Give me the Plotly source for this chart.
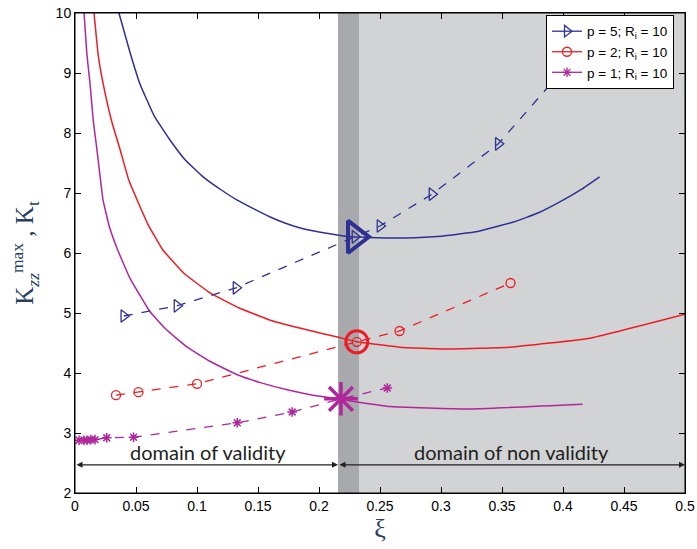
import plotly.graph_objects as go

# ---- data ----
# p = 5 ; solid curve K_zz^max
p5_xi = [0.036, 0.045, 0.053, 0.065, 0.078, 0.09, 0.105, 0.12, 0.133, 0.147, 0.16, 0.172, 0.184, 0.2, 0.215, 0.227, 0.24, 0.255, 0.27, 0.3, 0.33, 0.36, 0.38, 0.40, 0.415, 0.43]
p5_k  = [10.0, 9.35, 8.83, 8.28, 7.88, 7.56, 7.27, 7.05, 6.88, 6.73, 6.6, 6.5, 6.42, 6.35, 6.3, 6.27, 6.26, 6.25, 6.25, 6.28, 6.36, 6.52, 6.67, 6.88, 7.06, 7.27]
# p = 5 ; dashed K_t
p5t_xi = [0.040, 0.0836, 0.132, 0.2295, 0.25, 0.2926, 0.347, 0.40]
p5t_k  = [4.95, 5.12, 5.42, 6.27, 6.45, 6.98, 7.82, 9.05]

# p = 2 ; solid
p2_xi = [0.0156, 0.019, 0.023, 0.03, 0.037, 0.044, 0.051, 0.06, 0.072, 0.09, 0.111, 0.135, 0.16, 0.19, 0.215, 0.231, 0.266, 0.305, 0.357, 0.422, 0.5]
p2_k  = [10.0, 9.3, 8.83, 8.2, 7.72, 7.22, 6.88, 6.47, 6.05, 5.65, 5.33, 5.08, 4.88, 4.72, 4.6, 4.52, 4.43, 4.4, 4.43, 4.58, 4.98]
# p = 2 ; dashed
p2t_xi = [0.0336, 0.052, 0.1, 0.231, 0.266, 0.357]
p2t_k  = [3.63, 3.68, 3.82, 4.52, 4.7, 5.5]

# p = 1 ; solid
p1_xi = [0.0074, 0.0098, 0.0123, 0.015, 0.018, 0.023, 0.028, 0.035, 0.045, 0.0615, 0.075, 0.092, 0.11, 0.133, 0.152, 0.174, 0.195, 0.218, 0.258, 0.321, 0.416]
p1_k  = [10.0, 9.3, 8.83, 8.2, 7.72, 6.88, 6.45, 6.05, 5.58, 5.02, 4.72, 4.43, 4.2, 3.97, 3.84, 3.72, 3.63, 3.56, 3.44, 3.4, 3.48]
# p = 1 ; dashed
p1t_xi = [0.0033, 0.0074, 0.0098, 0.013, 0.0164, 0.026, 0.048, 0.133, 0.178, 0.218, 0.256]
p1t_k  = [2.88, 2.88, 2.88, 2.89, 2.89, 2.92, 2.93, 3.17, 3.35, 3.57, 3.75]

# critical (intersection) points
crit5_xi, crit5_k = [0.2295], [6.27]
crit2_xi, crit2_k = [0.231], [4.52]
crit1_xi, crit1_k = [0.218], [3.57]

legend_labels = ["p = 5; R<sub>i</sub> = 10", "p = 2; R<sub>i</sub> = 10", "p = 1; R<sub>i</sub> = 10"]

# domain boundaries
xi_valid = [0.0, 0.2156]
xi_band = [0.2156, 0.2328]
xi_max = 0.5
arrow_k = 2.47

BLUE = "#2E3192"
RED = "#ED1C24"
MAG = "#B0279B"

fig = go.Figure()

# shaded regions
fig.add_shape(type="rect", xref="x", yref="y", x0=xi_band[1], x1=xi_max, y0=2, y1=10,
              fillcolor="#D1D3D4", line_width=0, layer="below")
fig.add_shape(type="rect", xref="x", yref="y", x0=xi_band[0], x1=xi_band[1], y0=2, y1=10,
              fillcolor="#A7A9AC", line_width=0, layer="below")
# axes box
fig.add_shape(type="rect", xref="x domain", yref="y domain", x0=0, x1=1, y0=0, y1=1,
              line=dict(color="black", width=1), fillcolor="rgba(0,0,0,0)", layer="above")

# solid curves
for xs, ys, c in [(p5_xi, p5_k, BLUE), (p2_xi, p2_k, RED), (p1_xi, p1_k, MAG)]:
    fig.add_trace(go.Scatter(x=xs, y=ys, mode="lines",
                             line=dict(color=c, width=1.5, shape="spline", smoothing=0.3),
                             showlegend=False, hoverinfo="skip"))

# dashed with markers
fig.add_trace(go.Scatter(x=p5t_xi, y=p5t_k, mode="lines+markers", line=dict(color=BLUE, width=1.3, dash="dash"),
                         marker=dict(symbol="triangle-right-open", size=11, color=BLUE, line=dict(width=1.3, color=BLUE)),
                         showlegend=False))
fig.add_trace(go.Scatter(x=p2t_xi, y=p2t_k, mode="lines+markers", line=dict(color=RED, width=1.3, dash="dash"),
                         marker=dict(symbol="circle-open", size=9, color=RED, line=dict(width=1.3, color=RED)),
                         showlegend=False))
fig.add_trace(go.Scatter(x=p1t_xi, y=p1t_k, mode="lines+markers", line=dict(color=MAG, width=1.3, dash="dash"),
                         marker=dict(symbol="asterisk-open", size=8, color=MAG, line=dict(width=1.5, color=MAG)),
                         showlegend=False))

# big critical markers
fig.add_trace(go.Scatter(x=crit5_xi, y=crit5_k, mode="markers",
                         marker=dict(symbol="triangle-right-open", size=28, color=BLUE, line=dict(width=4, color=BLUE)),
                         showlegend=False))
fig.add_trace(go.Scatter(x=crit2_xi, y=crit2_k, mode="markers",
                         marker=dict(symbol="circle-open", size=22, color=RED, line=dict(width=3, color=RED)),
                         showlegend=False))
fig.add_trace(go.Scatter(x=crit1_xi, y=crit1_k, mode="markers",
                         marker=dict(symbol="asterisk-open", size=28, color=MAG, line=dict(width=3.5, color=MAG)),
                         showlegend=False))

# legend entries (solid line with marker)
for lbl, c, sym, sz in [(legend_labels[0], BLUE, "triangle-right-open", 10),
                        (legend_labels[1], RED, "circle-open", 9),
                        (legend_labels[2], MAG, "asterisk-open", 8)]:
    fig.add_trace(go.Scatter(x=[None], y=[None], mode="lines+markers", name=lbl,
                             line=dict(color=c, width=1.3),
                             marker=dict(symbol=sym, size=sz, color=c, line=dict(width=1.3, color=c))))

# arrows
for x0, x1 in [(xi_valid[0], xi_valid[1]), (xi_valid[1], xi_max)]:
    fig.add_annotation(x=x1, y=arrow_k, ax=x0, ay=arrow_k, xref="x", yref="y", axref="x", ayref="y",
                       text="", showarrow=True, arrowhead=2, arrowside="end+start", arrowsize=1.0,
                       arrowwidth=1.2, arrowcolor="#231F20")

fig.add_annotation(x=0.109, y=2.68, xref="x", yref="y", text="domain of validity", showarrow=False,
                   font=dict(family="Lato, sans-serif", size=20, color="#231F20"))
fig.add_annotation(x=0.358, y=2.68, xref="x", yref="y", text="domain of non validity", showarrow=False,
                   font=dict(family="Lato, sans-serif", size=20, color="#231F20"))

axis_common = dict(showgrid=False, zeroline=False, showline=True, linecolor="black", linewidth=1,
                   mirror="ticks", ticks="inside", ticklen=6, tickcolor="black", automargin=False,
                   tickfont=dict(family="Liberation Sans, Arial", size=14, color="black"))

fig.update_layout(
    width=697, height=549,
    margin=dict(l=75, r=12, t=13, b=56),
    plot_bgcolor="white", paper_bgcolor="white",
    xaxis=dict(range=[0, 0.5], tickvals=[0, 0.05, 0.1, 0.15, 0.2, 0.25, 0.3, 0.35, 0.4, 0.45, 0.5],
               ticktext=["0", "0.05", "0.1", "0.15", "0.2", "0.25", "0.3", "0.35", "0.4", "0.45", "0.5"],
               title=dict(text="ξ", font=dict(family="Liberation Serif, Times New Roman", size=26), standoff=2),
               **axis_common),
    yaxis=dict(range=[2, 10], tickvals=[2, 3, 4, 5, 6, 7, 8, 9, 10],
               title=dict(text="K<sub><i>zz</i></sub><sup>max</sup> , K<sub>t</sub>",
                          font=dict(family="Liberation Serif, Times New Roman", size=25), standoff=14),
               **axis_common),
    legend=dict(x=0.982, y=0.996, xanchor="right", yanchor="top", bgcolor="white",
                bordercolor="black", borderwidth=1,
                font=dict(family="Liberation Sans, Arial", size=13.5, color="black"),
                tracegroupgap=0, itemwidth=30),
)

fig.write_html("out.html", config={"displayModeBar": False},
               post_script="document.body.style.margin='0';document.body.style.overflow='hidden';")
